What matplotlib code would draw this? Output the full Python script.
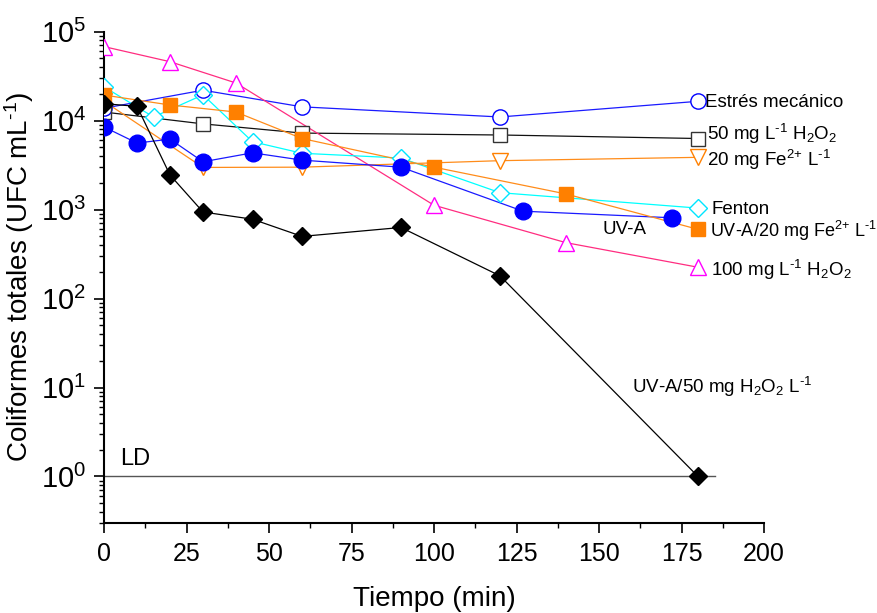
import numpy as np
import matplotlib
matplotlib.use("Agg")
import matplotlib.pyplot as plt
from matplotlib.ticker import MultipleLocator, LogLocator, NullFormatter

plt.rcParams["font.family"] = ["Liberation Sans", "DejaVu Sans"]
plt.rcParams["mathtext.fontset"] = "custom"
plt.rcParams["mathtext.rm"] = "Liberation Sans"
plt.rcParams["mathtext.it"] = "Liberation Sans:italic"
plt.rcParams["mathtext.default"] = "regular"

# datos (UFC/mL vs tiempo en min)
t_estres = [0, 30, 60, 120, 180]
estres = [13800, 22000, 14300, 11000, 16500]

t_h2o2_50 = [0, 30, 60, 120, 180]
h2o2_50 = [12500, 9200, 7250, 6900, 6300]

t_fe20 = [0, 30, 60, 120, 180]
fe20 = [16500, 2980, 3000, 3550, 3870]

t_fenton = [0, 15, 30, 45, 60, 90, 120, 180]
fenton = [24000, 11000, 19500, 5800, 4300, 3800, 1550, 1040]

t_uva = [0, 10, 20, 30, 45, 60, 90, 127, 172]
uva = [8500, 5600, 6200, 3450, 4350, 3600, 3000, 960, 810]

t_uva_fe = [0, 20, 40, 60, 100, 140, 180]
uva_fe = [19400, 15000, 12500, 6300, 3000, 1500, 600]

t_h2o2_100 = [0, 20, 40, 100, 140, 180]
h2o2_100 = [68000, 46000, 26500, 1120, 425, 225]

t_uva_h2o2 = [0, 10, 20, 30, 45, 60, 90, 120, 180]
uva_h2o2 = [15500, 14500, 2450, 940, 780, 500, 630, 180, 1]

fig = plt.figure(figsize=(8.77, 6.13), dpi=100)
ax = fig.add_axes([104 / 877, 1 - 523 / 613, 660 / 877, 491.3 / 613])

# limite de deteccion
ax.plot([0, 185], [1, 1], color="#555555", lw=1.0, zorder=1)


def serie(t, v, color, lcolor, marker, ms, filled):
    ax.plot(t, v, color=lcolor, lw=0.9, zorder=2)
    if filled:
        ax.plot(t, v, ls="none", marker=marker, ms=ms, mfc=color, mec=color,
                mew=1.0, zorder=4)
    else:
        ax.plot(t, v, ls="none", marker=marker, ms=ms, mfc="white", mec="none",
                zorder=3)
        ax.plot(t, v, ls="none", marker=marker, ms=ms, mfc="none", mec=color,
                mew=1.0, zorder=4)


serie(t_estres, estres, "#0000ff", "#1a1aff", "o", 11, False)
serie(t_h2o2_50, h2o2_50, "#333333", "#111111", "s", 10, False)
serie(t_fe20, fe20, "#ff8000", "#ff8c1a", "v", 12, False)
serie(t_h2o2_100, h2o2_100, "#ff00ff", "#ff2d80", "^", 12, False)
serie(t_fenton, fenton, "#00e5ff", "#00ffff", "D", 9, False)
serie(t_uva, uva, "#0000ff", "#1a1aff", "o", 12, True)
serie(t_uva_fe, uva_fe, "#ff8000", "#ff8c1a", "s", 10.5, True)
serie(t_uva_h2o2, uva_h2o2, "#000000", "#000000", "D", 9.5, True)

ax.set_yscale("log")
ax.set_xlim(0, 200)
ax.set_ylim(0.3, 1e5)
ax.xaxis.set_major_locator(MultipleLocator(25))
ax.xaxis.set_minor_locator(MultipleLocator(12.5))
ax.yaxis.set_major_locator(LogLocator(base=10, numticks=10))
ax.yaxis.set_minor_locator(LogLocator(base=10, subs=np.arange(2, 10), numticks=10))
ax.yaxis.set_minor_formatter(NullFormatter())

for s in ["top", "right"]:
    ax.spines[s].set_visible(False)
for s in ["left", "bottom"]:
    ax.spines[s].set_linewidth(1.5)
ax.tick_params(which="major", direction="out", length=7, width=1.2, pad=7)
ax.tick_params(axis="x", labelsize=18)
ax.tick_params(axis="y", labelsize=21, pad=6)
ax.tick_params(which="minor", direction="out", length=3.7, width=1.0)

ax.set_xlabel("Tiempo (min)", fontsize=20, labelpad=14)
ax.set_ylabel(r"Coliformes totales (UFC mL$^{\text{-}1}$)", fontsize=20, labelpad=3)

# etiquetas de las series
fs = 13.5
m1 = r"$^{\text{-}1}$"
fe = r"Fe$^{2\text{+}}$"
ax.text(182, 14270, "Estrés mecánico", fontsize=fs, va="baseline")
ax.text(182.7, 6070, "50 mg L" + m1 + " H$_2$O$_2$", fontsize=fs, va="baseline")
ax.text(182.7, 3100, "20 mg " + fe + " L" + m1, fontsize=fs, va="baseline")
ax.text(184, 887, "Fenton", fontsize=fs, va="baseline")
ax.text(183.6, 490, "UV-A/20 mg " + fe + " L" + m1, fontsize=13, va="baseline")
ax.text(184, 180, "100 mg L" + m1 + " H$_2$O$_2$", fontsize=fs, va="baseline")
ax.text(151, 533, "UV-A", fontsize=fs, va="baseline")
ax.text(160, 8.7, "UV-A/50 mg H$_2$O$_2$ L" + m1, fontsize=fs, va="baseline")
ax.text(4.8, 1.35, "LD", fontsize=17, va="baseline")

fig.savefig("out.png", dpi=100)
